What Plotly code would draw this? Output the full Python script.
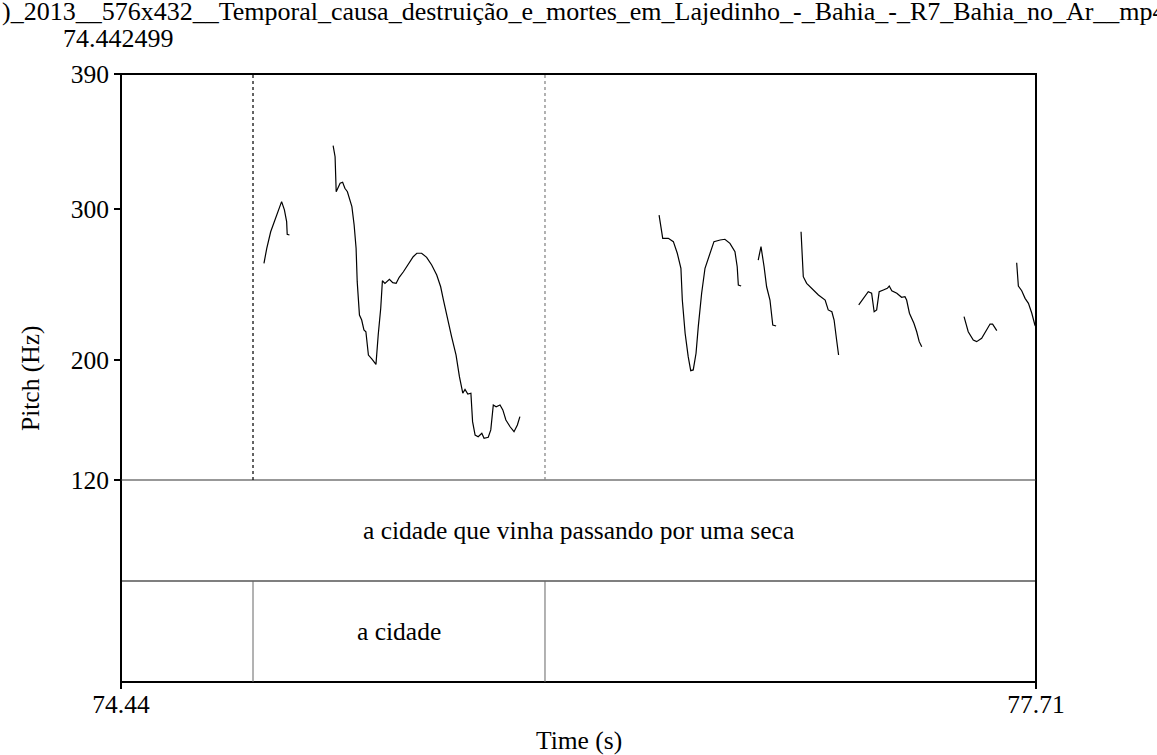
import plotly.graph_objects as go

# ---------------- data ----------------
T_START = 74.442499
T_END = 77.71
PITCH_MIN, PITCH_MAX = 120, 390
pitch_ticks = [120, 200, 300, 390]
time_tick_vals = [T_START, T_END]
time_tick_text = ["74.44", "77.71"]

title_text = ")_2013__576x432__Temporal_causa_destruição_e_mortes_em_Lajedinho_-_Bahia_-_R7_Bahia_no_Ar__mp4"
start_label = "74.442499"

# pitch contour segments (time s, pitch Hz)
seg_a_t = [74.953, 74.963, 74.977, 74.992, 75.008, 75.016, 75.026, 75.034, 75.036, 75.044]
seg_a_f = [264.1, 274.1, 285.1, 292.9, 301.8, 305.1, 299.6, 291.8, 283.4, 282.9]

seg_b_t = [75.200, 75.207, 75.211, 75.216, 75.225, 75.234, 75.242, 75.251, 75.260, 75.267,
           75.275, 75.282, 75.286, 75.294, 75.302, 75.310, 75.317, 75.322, 75.326, 75.338,
           75.353, 75.361, 75.370, 75.376, 75.385, 75.401, 75.413, 75.425, 75.436, 75.451,
           75.469, 75.486, 75.499, 75.516, 75.534, 75.552, 75.570, 75.584, 75.594, 75.608,
           75.623, 75.639, 75.651, 75.663, 75.671, 75.681, 75.692, 75.698, 75.707, 75.718,
           75.731, 75.739, 75.754, 75.763, 75.772, 75.782, 75.796, 75.806, 75.817, 75.832,
           75.846, 75.858, 75.867]
seg_b_f = [342.3, 335.0, 311.7, 314.0, 317.3, 318.0, 314.0, 311.7, 306.2, 301.8,
           289.6, 274.1, 251.9, 229.7, 226.4, 219.8, 218.6, 208.6, 203.1, 200.5,
           196.9, 216.4, 234.2, 252.5, 250.8, 253.5, 251.2, 250.8, 254.8, 258.5,
           263.6, 268.5, 270.8, 270.8, 268.1, 263.0, 256.3, 248.5, 239.7, 227.5,
           215.3, 203.1, 188.7, 177.7, 180.3, 177.2, 177.7, 158.8, 149.9, 148.8,
           151.1, 147.7, 148.4, 153.3, 169.9, 168.7, 169.9, 166.6, 159.9, 155.4,
           152.1, 156.6, 162.1]

seg_c_t = [76.364, 76.377, 76.397, 76.415, 76.429, 76.442, 76.447, 76.457, 76.468, 76.477,
           76.486, 76.496, 76.504, 76.516, 76.528, 76.546, 76.560, 76.582, 76.599, 76.617,
           76.635, 76.643, 76.647, 76.657]
seg_c_f = [296.2, 280.7, 280.7, 278.5, 270.8, 260.8, 239.7, 217.6, 202.0, 192.7,
           193.2, 204.3, 222.0, 244.2, 260.8, 270.8, 278.5, 279.6, 280.1, 277.4,
           271.8, 261.8, 249.7, 249.0]

seg_d_t = [76.718, 76.728, 76.739, 76.748, 76.760, 76.770, 76.782]
seg_d_f = [266.3, 275.2, 261.8, 248.5, 239.7, 223.1, 222.4]

seg_e_t = [76.871, 76.879, 76.891, 76.909, 76.933, 76.957, 76.968, 76.981, 76.989, 76.998, 77.005]
seg_e_f = [285.1, 255.2, 250.8, 247.5, 243.0, 239.7, 233.1, 231.9, 226.4, 213.1, 203.1]

seg_f_t = [77.077, 77.091, 77.111, 77.123, 77.132, 77.141, 77.150, 77.165, 77.179, 77.186,
           77.195, 77.213, 77.230, 77.242, 77.248, 77.258, 77.274, 77.284, 77.293, 77.302]
seg_f_f = [236.4, 239.7, 245.2, 244.2, 231.9, 233.1, 245.2, 246.4, 247.5, 249.0,
           245.9, 244.2, 241.5, 241.9, 239.7, 230.9, 224.2, 218.6, 212.0, 208.6]

seg_g_t = [77.453, 77.468, 77.486, 77.498, 77.516, 77.534, 77.546, 77.555, 77.564, 77.570]
seg_g_f = [228.6, 218.6, 213.1, 212.0, 214.2, 219.8, 223.7, 223.7, 220.9, 219.3]

seg_h_t = [77.641, 77.647, 77.659, 77.671, 77.683, 77.695, 77.706, 77.710]
seg_h_f = [264.5, 249.0, 245.9, 240.8, 237.5, 230.9, 223.1, 221.7]

segments_t = [seg_a_t, seg_b_t, seg_c_t, seg_d_t, seg_e_t, seg_f_t, seg_g_t, seg_h_t]
segments_f = [seg_a_f, seg_b_f, seg_c_f, seg_d_f, seg_e_f, seg_f_f, seg_g_f, seg_h_f]

# text grid
tier1_label = "a cidade que vinha passando por uma seca"
tier1_bounds = [T_START, T_END]
tier2_label = "a cidade"
tier2_bounds = [74.9139, 75.9566]

# ---------------- figure ----------------
W, H = 1157, 755
ML, MR, MT, MB = 121, 121, 74, 73
PW = W - ML - MR
PH = H - MT - MB


def px_x(p):
    return (p - ML) / PW


def px_y(p):
    return (H - MB - p) / PH


FONT = "Liberation Serif"
FS = 25.5
FS_TOP = 26

pitch_bottom = px_y(480)
tier_sep = px_y(581)

fig = go.Figure()
for ts, fs in zip(segments_t, segments_f):
    fig.add_trace(go.Scatter(x=ts, y=fs, mode="lines",
                             line=dict(color="black", width=1.2),
                             showlegend=False, hoverinfo="skip"))

shapes = []
# frame
shapes.append(dict(type="rect", xref="paper", yref="paper", x0=0, x1=1, y0=0, y1=1,
                   line=dict(color="black", width=2)))
shapes.append(dict(type="line", xref="paper", yref="paper", x0=0, x1=1,
                   y0=pitch_bottom, y1=pitch_bottom, line=dict(color="#333", width=1.2)))
shapes.append(dict(type="line", xref="paper", yref="paper", x0=0, x1=1,
                   y0=tier_sep, y1=tier_sep, line=dict(color="black", width=1.2)))
# boundary lines
dot_colors = ["#111", "#888"]
for b, c in zip(tier2_bounds, dot_colors):
    shapes.append(dict(type="line", xref="x", yref="paper", x0=b, x1=b,
                       y0=pitch_bottom, y1=1, line=dict(color=c, width=1.3, dash="dot")))
    shapes.append(dict(type="line", xref="x", yref="paper", x0=b, x1=b,
                       y0=0, y1=tier_sep, line=dict(color="#666", width=1)))

annotations = [
    dict(text=title_text, xref="paper", yref="paper", x=px_x(0), y=px_y(12),
         xanchor="left", yanchor="middle", showarrow=False,
         font=dict(family=FONT, size=FS_TOP, color="black")),
    dict(text=start_label, xref="paper", yref="paper", x=px_x(118), y=px_y(38),
         xanchor="center", yanchor="middle", showarrow=False,
         font=dict(family=FONT, size=FS_TOP, color="black")),
    dict(text=tier1_label, xref="x", yref="paper",
         x=(tier1_bounds[0] + tier1_bounds[1]) / 2, y=(pitch_bottom + tier_sep) / 2,
         xanchor="center", yanchor="middle", showarrow=False,
         font=dict(family=FONT, size=FS, color="black")),
    dict(text=tier2_label, xref="x", yref="paper",
         x=(tier2_bounds[0] + tier2_bounds[1]) / 2, y=tier_sep / 2,
         xanchor="center", yanchor="middle", showarrow=False,
         font=dict(family=FONT, size=FS, color="black")),
    dict(text="Pitch (Hz)", xref="paper", yref="paper", x=px_x(30), y=px_y(378),
         xanchor="center", yanchor="middle", showarrow=False, textangle=-90,
         font=dict(family=FONT, size=FS, color="black")),
    dict(text="Time (s)", xref="paper", yref="paper", x=0.5, y=px_y(740),
         xanchor="center", yanchor="middle", showarrow=False,
         font=dict(family=FONT, size=FS, color="black")),
]

fig.update_layout(
    width=W, height=H,
    margin=dict(l=ML, r=MR, t=MT, b=MB),
    paper_bgcolor="white", plot_bgcolor="white",
    font=dict(family=FONT, size=FS, color="black"),
    shapes=shapes, annotations=annotations,
    xaxis=dict(range=[T_START, T_END], showgrid=False, zeroline=False,
               anchor="free", position=0,
               tickmode="array", tickvals=time_tick_vals, ticktext=time_tick_text,
               ticks="outside", ticklen=6, tickwidth=1.5, tickcolor="black",
               ticklabelstandoff=-7,
               tickfont=dict(family=FONT, size=FS, color="black"), showline=False),
    yaxis=dict(range=[PITCH_MIN, PITCH_MAX], domain=[pitch_bottom, 1],
               showgrid=False, zeroline=False,
               tickmode="array", tickvals=pitch_ticks,
               ticks="outside", ticklen=6, tickwidth=1.5, tickcolor="black",
               tickfont=dict(family=FONT, size=FS, color="black"), showline=False),
)

fig.write_html("out.html", config={"displayModeBar": False},
               post_script="document.body.style.margin='0';document.body.style.overflow='hidden';")
